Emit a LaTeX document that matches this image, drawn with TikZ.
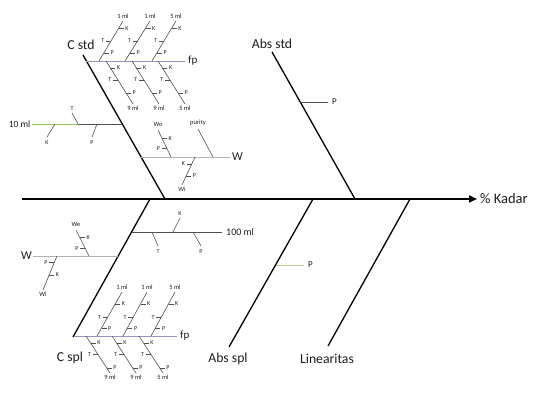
\documentclass[tikz,border=0pt]{standalone}
\usepackage{fontspec}
\setmainfont{Carlito}
\usetikzlibrary{positioning, arrows.meta, calc}
\definecolor{twigcolor}{RGB}{80,80,80}
\definecolor{fpcolor}{RGB}{150,150,185}
\definecolor{tencolor}{RGB}{140,200,100}
\definecolor{pcolor}{RGB}{200,200,140}
\definecolor{textcolor}{RGB}{30,30,30}

\begin{document}
\begin{tikzpicture}[
    x=1pt, y=-1pt,
    every node/.style={text=textcolor},
    bone/.style={line width=1.3pt},
    spine/.style={line width=2.4pt, -{Triangle[length=8pt, width=7pt]}},
    twig/.style={twigcolor, line width=0.6pt},
    fpline/.style={fpcolor, line width=0.8pt},
    wline/.style={gray!60, line width=0.8pt},
    bigl/.style={font=\fontsize{13.7}{15}\selectfont, inner sep=1pt},
    midl/.style={font=\fontsize{10}{11}\selectfont, inner sep=1.5pt},
    sublab/.style={font=\fontsize{6.5}{7}\selectfont, inner sep=1pt},
    ticklab/.style={font=\fontsize{6}{6}\selectfont, inner sep=1.5pt},
]

% Frame
\useasboundingbox (0,0) rectangle (533,395);

% Spine
\coordinate (tail) at (22,199);
\node[bigl, font=\fontsize{14.5}{16}\selectfont, anchor=west, inner sep=3pt] (kadar) at (477,199) {\% Kadar};
\draw[spine] (tail) -- (kadar);

% Main bones
\coordinate (cstdS) at (165,199);
\coordinate (cstdT) at (83,55);
\node[bigl] (cstd) at (81,45) {C std};
\draw[bone] (cstdS) -- (cstdT);

\coordinate (absstdS) at (355,199);
\coordinate (absstdT) at (272,52);
\node[bigl] (absstd) at (272,44) {Abs std};
\draw[bone] (absstdS) -- (absstdT);

\coordinate (csplS) at (150,199);
\coordinate (csplB) at (73,337);
\node[bigl] (cspl) at (70,358) {C spl};
\draw[bone] (csplS) -- (csplB);

\coordinate (absplS) at (313,199);
\coordinate (absplB) at (229,347);
\node[bigl] (abspl) at (228,359) {Abs spl};
\draw[bone] (absplS) -- (absplB);

\coordinate (linS) at (410,199);
\coordinate (linB) at (328,346);
\node[bigl] (lin) at (327,359) {Linearitas};
\draw[bone] (linS) -- (linB);

% P on the absorbance bones
\coordinate (absstdP) at (300.2,102);
\node[midl, font=\fontsize{9}{10}\selectfont, anchor=west, inner sep=4pt] (pstd) at (328,102) {P};
\draw[twig] (absstdP) -- (pstd);

\coordinate (absplP) at (275.5,265);
\node[midl, font=\fontsize{9}{10}\selectfont, anchor=west, inner sep=4pt] (pspl) at (304,265) {P};
\draw[pcolor, line width=0.8pt] (absplP) -- (pspl);

% fp lines
\coordinate (cstdF) at (86.4,61);
\node[midl, font=\fontsize{11}{12}\selectfont, anchor=west, inner sep=3pt] (fpstd) at (185,61) {fp};
\draw[fpline] (cstdF) -- (fpstd);

\coordinate (csplF) at (73.6,336);
\node[midl, font=\fontsize{11}{12}\selectfont, anchor=west, inner sep=3pt] (fpspl) at (177,336) {fp};
\draw[fpline] (csplF) -- (fpspl);

% volumes hanging above the fp lines
\foreach \tx/\ty/\bx/\by/\vol/\fk/\ft/\fq [count=\i] in {
    123/21/99/61/1 ml/0.18/0.5/0.8,
    150/21/125/61/1 ml/0.18/0.5/0.8,
    176/21/152/61/5 ml/0.18/0.5/0.8,
    122/292/97/336/1 ml/0.27/0.57/0.82,
    147/292/123/336/1 ml/0.27/0.57/0.82,
    175/292/151/336/5 ml/0.27/0.57/0.82}
{
    \coordinate (ut\i) at (\tx,\ty);
    \coordinate (ub\i) at (\bx,\by);
    \draw[twig] (ut\i) -- (ub\i);
    \node[sublab, above=1pt of ut\i] (uv\i) {\vol};
    \coordinate (uk\i) at ($(ut\i)!\fk!(ub\i)$);
    \coordinate (utt\i) at ($(ut\i)!\ft!(ub\i)$);
    \coordinate (up\i) at ($(ut\i)!\fq!(ub\i)$);
    \node[ticklab, right=5pt of uk\i] (ukl\i) {K};
    \node[ticklab, left=5pt of utt\i] (utl\i) {T};
    \node[ticklab, right=5pt of up\i] (upl\i) {P};
    \draw[twig] (uk\i) -- (ukl\i);
    \draw[twig] (utt\i) -- (utl\i);
    \draw[twig] (up\i) -- (upl\i);
}

% volumes hanging below the fp lines
\foreach \tx/\ty/\bx/\by/\vol/\fk/\ft/\fq [count=\i] in {
    106/61/133/104/9 ml/0.16/0.44/0.74,
    132/61/159/104/9 ml/0.16/0.44/0.74,
    158/61/185/104/5 ml/0.16/0.44/0.74,
    86/336/110/373/9 ml/0.19/0.49/0.86,
    112/336/136/373/9 ml/0.19/0.49/0.86,
    139/336/163/373/5 ml/0.19/0.49/0.86}
{
    \coordinate (dt\i) at (\tx,\ty);
    \coordinate (db\i) at (\bx,\by);
    \draw[twig] (dt\i) -- (db\i);
    \node[sublab, below=1pt of db\i] (dv\i) {\vol};
    \coordinate (dk\i) at ($(dt\i)!\fk!(db\i)$);
    \coordinate (dtt\i) at ($(dt\i)!\ft!(db\i)$);
    \coordinate (dp\i) at ($(dt\i)!\fq!(db\i)$);
    \node[ticklab, right=5pt of dk\i] (dkl\i) {K};
    \node[ticklab, left=5pt of dtt\i] (dtl\i) {T};
    \node[ticklab, right=5pt of dp\i] (dpl\i) {P};
    \draw[twig] (dk\i) -- (dkl\i);
    \draw[twig] (dtt\i) -- (dtl\i);
    \draw[twig] (dp\i) -- (dpl\i);
}

% 10 ml branch
\node[midl, font=\fontsize{9.5}{10}\selectfont, anchor=east] (tenml) at (32,124) {10 ml};
\coordinate (tenC) at (122.3,124);
\coordinate (tenK) at (55,124);
\coordinate (tenT) at (78,124);
\coordinate (tenP) at (97,124);
\draw[tencolor, line width=0.8pt] (tenml) -- (tenT);
\draw[twig] (tenT) -- (tenC);
\coordinate (tenKe) at (47,137);
\coordinate (tenTe) at (72,113);
\coordinate (tenPe) at (92,137);
\draw[twig] (tenK) -- (tenKe);
\draw[twig] (tenT) -- (tenTe);
\draw[twig] (tenP) -- (tenPe);
\node[ticklab, below=2pt of tenKe] (tenKl) {K};
\node[ticklab, above=1pt of tenTe] (tenTl) {T};
\node[ticklab, below=2pt of tenPe] (tenPl) {P};

% W branch (standard)
\coordinate (wstdC) at (141.1,157);
\node[midl, font=\fontsize{12}{13}\selectfont, anchor=west, inner sep=2pt] (wstd) at (230,157) {W};
\draw[wline] (wstdC) -- (wstd);

\coordinate (woT) at (158,130);
\coordinate (woB) at (171,157);
\draw[twig] (woT) -- (woB);
\node[sublab, above=2pt of woT] (wo) {Wo};
\coordinate (woK) at ($(woT)!0.3!(woB)$);
\coordinate (woP) at ($(woT)!0.67!(woB)$);
\node[ticklab, right=5pt of woK] (woKl) {K};
\node[ticklab, left=5pt of woP] (woPl) {P};
\draw[twig] (woK) -- (woKl);
\draw[twig] (woP) -- (woPl);

\coordinate (purT) at (198,129);
\coordinate (purB) at (213,157);
\draw[twig] (purT) -- (purB);
\node[sublab, above=2pt of purT] (pur) {purity};

\coordinate (wiT) at (195,157);
\coordinate (wiB) at (182,185);
\draw[twig] (wiT) -- (wiB);
\node[sublab, below=1pt of wiB] (wi) {Wi};
\coordinate (wiK) at ($(wiT)!0.25!(wiB)$);
\coordinate (wiP) at ($(wiT)!0.68!(wiB)$);
\node[ticklab, left=5pt of wiK] (wiKl) {K};
\node[ticklab, right=5pt of wiP] (wiPl) {P};
\draw[twig] (wiK) -- (wiKl);
\draw[twig] (wiP) -- (wiPl);

% 100 ml branch
\coordinate (hunC) at (131.6,232);
\node[midl, anchor=west, inner sep=4pt] (hun) at (222,232) {100 ml};
\draw[twig] (hunC) -- (hun);
\coordinate (hunK) at (173,232);
\coordinate (hunT) at (152,232);
\coordinate (hunP) at (193,232);
\coordinate (hunKe) at (180,218);
\coordinate (hunTe) at (158,246);
\coordinate (hunPe) at (201,246);
\draw[twig] (hunK) -- (hunKe);
\draw[twig] (hunT) -- (hunTe);
\draw[twig] (hunP) -- (hunPe);
\node[ticklab, above=1pt of hunKe] (hunKl) {K};
\node[ticklab, below=2pt of hunTe] (hunTl) {T};
\node[ticklab, below=2pt of hunPe] (hunPl) {P};

% W branch (sample)
\coordinate (wsplC) at (118.2,256);
\node[midl, font=\fontsize{12}{13}\selectfont, anchor=east, inner sep=1pt] (wspl) at (33,256) {W};
\draw[wline] (wspl) -- (wsplC);

\coordinate (weT) at (76,230);
\coordinate (weB) at (89,256);
\draw[twig] (weT) -- (weB);
\node[sublab, above=2pt of weT] (we) {We};
\coordinate (weK) at ($(weT)!0.3!(weB)$);
\coordinate (weP) at ($(weT)!0.7!(weB)$);
\node[ticklab, right=5pt of weK] (weKl) {K};
\node[ticklab, left=5pt of weP] (wePl) {P};
\draw[twig] (weK) -- (weKl);
\draw[twig] (weP) -- (wePl);

\coordinate (wisT) at (57,256);
\coordinate (wisB) at (43,290);
\draw[twig] (wisT) -- (wisB);
\node[sublab, below=1pt of wisB] (wis) {Wi};
\coordinate (wisP) at ($(wisT)!0.2!(wisB)$);
\coordinate (wisK) at ($(wisT)!0.56!(wisB)$);
\node[ticklab, left=5pt of wisP] (wisPl) {P};
\node[ticklab, right=5pt of wisK] (wisKl) {K};
\draw[twig] (wisP) -- (wisPl);
\draw[twig] (wisK) -- (wisKl);

\end{tikzpicture}
\end{document}
